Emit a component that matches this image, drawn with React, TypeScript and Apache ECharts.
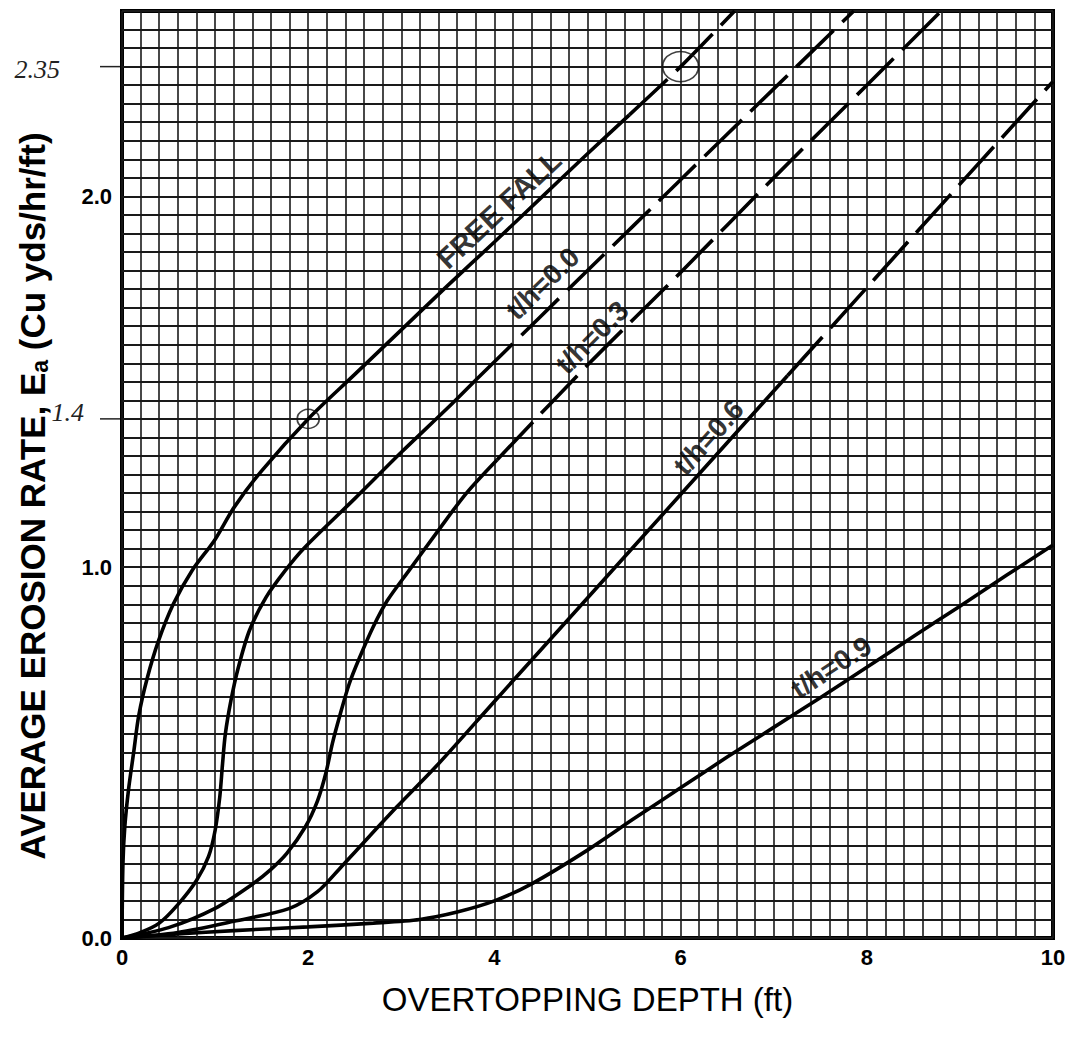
import React, { useEffect, useRef } from "react";
import * as echarts from "echarts";

// Axis tick labels that are printed
const xTickLabels = ["0", "2", "4", "6", "8", "10"];
const yTickLabels = ["0.0", "1.0", "2.0"];

// Curves: [overtopping depth (ft), erosion rate]
const freeFallSolid: number[][] = [
  [0, 0], [0.01, 0.2], [0.03, 0.3], [0.07, 0.4], [0.125, 0.5], [0.18, 0.6], [0.27, 0.7],
  [0.39, 0.8], [0.55, 0.9], [0.75, 0.99], [1.0, 1.075], [1.2, 1.16], [1.5, 1.26], [2.0, 1.4],
  [2.5, 1.52], [3.0, 1.64], [3.5, 1.76], [4.0, 1.877], [4.5, 1.996], [5.0, 2.115], [5.45, 2.22],
];
const freeFallDashed: number[][] = [[5.45, 2.22], [6.0, 2.35], [6.58, 2.5]];

const th00Solid: number[][] = [
  [0, 0], [0.2, 0.015], [0.4, 0.04], [0.6, 0.09], [0.8, 0.155], [0.93, 0.22], [1.0, 0.29],
  [1.05, 0.38], [1.08, 0.47], [1.11, 0.55], [1.17, 0.64], [1.25, 0.73], [1.37, 0.83],
  [1.55, 0.92], [1.75, 0.99], [1.95, 1.05], [2.5, 1.185], [3.0, 1.31], [3.5, 1.43], [3.8, 1.505],
];
const th00Dashed: number[][] = [[3.8, 1.505], [5.0, 1.8], [6.0, 2.045], [7.0, 2.29], [7.86, 2.5]];

const th03Solid: number[][] = [
  [0, 0], [0.5, 0.028], [1.0, 0.08], [1.4, 0.145], [1.6, 0.185], [1.77, 0.228], [1.97, 0.3],
  [2.1, 0.37], [2.19, 0.445], [2.26, 0.525], [2.34, 0.6], [2.44, 0.685], [2.55, 0.755],
  [2.7, 0.84], [2.85, 0.91], [3.08, 0.99], [3.4, 1.1], [3.7, 1.2], [4.03, 1.29],
];
const th03Dashed: number[][] = [[4.03, 1.29], [5.0, 1.545], [6.0, 1.795], [7.0, 2.05], [8.0, 2.3], [8.8, 2.5]];

const th06Solid: number[][] = [
  [0, 0], [0.6, 0.015], [1.2, 0.045], [1.8, 0.08], [2.1, 0.125], [2.33, 0.185], [2.55, 0.245],
  [2.95, 0.353], [3.4, 0.47], [4.0, 0.638], [5.0, 0.917], [6.0, 1.196], [7.15, 1.517],
];
const th06Dashed: number[][] = [[7.15, 1.517], [8.0, 1.754], [9.0, 2.033], [10.0, 2.31]];

const th09Solid: number[][] = [
  [0, 0], [0.6, 0.011], [1.2, 0.02], [2.0, 0.03], [2.7, 0.04], [3.2, 0.05], [3.6, 0.07],
  [4.0, 0.1], [4.4, 0.146], [5.0, 0.237], [5.5, 0.322], [6.0, 0.405], [6.5, 0.488],
  [7.0, 0.568], [7.5, 0.648], [8.0, 0.73], [8.5, 0.813], [9.0, 0.895], [9.5, 0.978], [10.0, 1.06],
];

// Curve labels
const curveLabelText = ["FREE FALL", "t/h=0.0", "t/h=0.3", "t/h=0.6", "t/h=0.9"];
const curveLabelX = [4.05, 4.52, 5.05, 6.3, 7.62];
const curveLabelY = [1.965, 1.765, 1.62, 1.35, 0.73];
const curveLabelAngle = [43, 44, 45, 48, 33];

// Hand-drawn circled points
const circledPoints: number[][] = [[2, 1.4], [6, 2.35]];
// Hand-written y marks
const handValues = [2.35, 1.4];
const handLabels = ["2.35", "1.4"];

export default function App() {
  const ref = useRef<HTMLDivElement>(null);

  useEffect(() => {
    if (!ref.current) return;
    const chart = echarts.init(ref.current, null, { renderer: "svg" });

    const line = (data: number[][], dashed: boolean) => ({
      type: "line",
      data,
      symbol: "none",
      showSymbol: false,
      smooth: 0.3,
      silent: true,
      z: 5,
      lineStyle: { color: "#000", width: 3.6, type: dashed ? [52, 12] : "solid", cap: "butt" },
    });

    chart.setOption({
      animation: false,
      backgroundColor: "#fff",
      grid: {
        left: 122, top: 11, width: 931, height: 927,
        show: true, borderColor: "#000", borderWidth: 4,
      },
      xAxis: {
        type: "value", min: 0, max: 10, interval: 0.2,
        axisLine: { show: false }, axisTick: { show: false },
        splitLine: { show: true, lineStyle: { color: "#1a1a1a", width: 1.6 } },
        axisLabel: {
          margin: 8, fontSize: 22, fontWeight: "bold", color: "#000", fontFamily: "Liberation Sans",
          formatter: (v: number) => {
            const s = String(Math.round(v * 1000) / 1000);
            return xTickLabels.includes(s) ? s : "";
          },
        },
        name: "OVERTOPPING DEPTH (ft)", nameLocation: "middle", nameGap: 45,
        nameTextStyle: { fontSize: 33, color: "#000", fontFamily: "Liberation Sans" },
      },
      yAxis: {
        type: "value", min: 0, max: 2.5, interval: 0.05,
        axisLine: { show: false }, axisTick: { show: false },
        splitLine: { show: true, lineStyle: { color: "#1a1a1a", width: 1.8 } },
        axisLabel: {
          margin: 10, fontSize: 22, fontWeight: "bold", color: "#000", fontFamily: "Liberation Sans",
          formatter: (v: number) => {
            if (Math.abs(v - Math.round(v)) > 1e-6) return "";
            const s = Math.round(v).toFixed(1);
            return yTickLabels.includes(s) ? s : "";
          },
        },
      },
      series: [
        line(freeFallSolid, false), line(freeFallDashed, true),
        line(th00Solid, false), line(th00Dashed, true),
        line(th03Solid, false), line(th03Dashed, true),
        line(th06Solid, false), line(th06Dashed, true),
        line(th09Solid, false),
        {
          type: "scatter", silent: true, z: 6, symbolSize: 0,
          data: curveLabelText.map((t, i) => ({
            value: [curveLabelX[i], curveLabelY[i]],
            name: t,
            label: { rotate: curveLabelAngle[i], fontSize: i === 0 ? 29 : 28 },
          })),
          label: {
            show: true, position: "inside", formatter: "{b}", color: "#000",
            fontSize: 28, fontWeight: "bold", fontFamily: "Liberation Sans",
            textBorderWidth: 0, textBorderColor: "transparent",
          },
        },
        {
          type: "scatter", silent: true, z: 6,
          data: circledPoints.map((p, i) => ({ value: p, symbolSize: i === 0 ? [22, 19] : [36, 30] })),
          itemStyle: { color: "rgba(0,0,0,0)", borderColor: "#111", borderWidth: 1.6 },
        },
      ],
    });

    const g: any[] = [];
    handValues.forEach((v, i) => {
      const p = chart.convertToPixel({ gridIndex: 0 }, [0, v]) as number[];
      g.push({
        type: "line", shape: { x1: p[0] - 22, y1: p[1], x2: p[0] - 2, y2: p[1] },
        style: { stroke: "#222", lineWidth: 1.5 },
      });
      g.push({
        type: "text", x: p[0] - (i === 0 ? 62 : 38), y: p[1] + (i === 0 ? 3 : -6),
        style: {
          text: handLabels[i], fill: "#222", textAlign: "right", textVerticalAlign: "middle",
          font: "italic 26px 'Liberation Serif'",
        },
      });
    });
    g.push({
      type: "text", x: 32, y: 496, rotation: Math.PI / 2,
      style: {
        text: "AVERAGE EROSION RATE, E{sub|a} (Cu yds/hr/ft)",
        fill: "#000", textAlign: "center", textVerticalAlign: "middle",
        font: "bold 35px 'Liberation Sans'", lineHeight: 38,
        rich: { sub: { fontSize: 23, fontWeight: "bold", fontFamily: "Liberation Sans", lineHeight: 14, verticalAlign: "bottom" } },
      },
    });
    chart.setOption({ graphic: g });

    return () => chart.dispose();
  }, []);

  return (
    <div
      ref={ref}
      style={{ position: "fixed", left: 0, top: 0, width: 1078, height: 1038, background: "#fff" }}
    />
  );
}
